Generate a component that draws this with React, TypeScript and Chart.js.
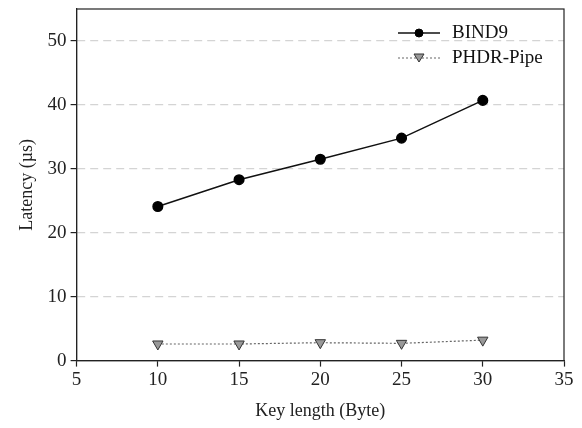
import React, { useEffect, useRef } from "react";
import { Chart, registerables } from "chart.js";

Chart.register(...registerables);

const keyLengths = [10, 15, 20, 25, 30];
const bind9 = [24.1, 28.3, 31.5, 34.8, 40.7];
const phdrPipe = [2.6, 2.6, 2.8, 2.7, 3.2];
const xTicks = [5, 10, 15, 20, 25, 30, 35];
const yTicks = [0, 10, 20, 30, 40, 50];

const FONT = "'Liberation Serif', 'Times New Roman', serif";

const framePlugin = {
  id: "frame",
  afterDraw(chart: any) {
    const { ctx, chartArea } = chart;
    ctx.save();
    ctx.strokeStyle = "#222";
    ctx.lineWidth = 1.2;
    ctx.strokeRect(chartArea.left, chartArea.top, chartArea.right - chartArea.left, chartArea.bottom - chartArea.top);
    // legend
    const items = chart.data.datasets;
    const x0 = chartArea.right - 166;
    let y = chartArea.top + 24;
    ctx.font = `19px ${FONT}`;
    ctx.textBaseline = "middle";
    items.forEach((ds: any, i: number) => {
      ctx.save();
      ctx.strokeStyle = ds.borderColor;
      ctx.lineWidth = ds.borderWidth;
      ctx.setLineDash(ds.borderDash || []);
      ctx.beginPath();
      ctx.moveTo(x0, y);
      ctx.lineTo(x0 + 42, y);
      ctx.stroke();
      ctx.setLineDash([]);
      ctx.fillStyle = ds.pointBackgroundColor;
      ctx.strokeStyle = ds.pointBorderColor;
      ctx.lineWidth = 1;
      ctx.beginPath();
      const cx = x0 + 21;
      if (i === 0) {
        ctx.arc(cx, y, 4, 0, Math.PI * 2);
      } else {
        ctx.moveTo(cx - 5, y - 4);
        ctx.lineTo(cx + 5, y - 4);
        ctx.lineTo(cx, y + 4);
        ctx.closePath();
      }
      ctx.fill();
      ctx.stroke();
      ctx.fillStyle = "#111";
      ctx.fillText(ds.label, x0 + 54, y);
      ctx.restore();
      y += 25;
    });
    ctx.restore();
  },
};

export default function App() {
  const ref = useRef<HTMLCanvasElement>(null);
  useEffect(() => {
    document.body.style.margin = "0";
    const chart = new Chart(ref.current!, {
      type: "line",
      data: {
        datasets: [
          {
            label: "BIND9",
            data: keyLengths.map((x, i) => ({ x, y: bind9[i] })),
            borderColor: "#111",
            borderWidth: 1.5,
            pointStyle: "circle",
            pointRadius: 4.8,
            pointBackgroundColor: "#000",
            pointBorderColor: "#000",
          },
          {
            label: "PHDR-Pipe",
            data: keyLengths.map((x, i) => ({ x, y: phdrPipe[i] })),
            borderColor: "#666",
            borderWidth: 1.2,
            borderDash: [2, 2],
            pointStyle: "triangle",
            rotation: 180,
            pointRadius: 6,
            pointBackgroundColor: "#999",
            pointBorderColor: "#333",
            pointBorderWidth: 1,
          },
        ],
      },
      options: {
        animation: false,
        responsive: false,
        layout: { padding: { top: 9, right: 18, left: 12, bottom: 2 } },
        plugins: { legend: { display: false }, tooltip: { enabled: false } },
        scales: {
          x: {
            type: "linear",
            min: 5,
            max: 35,
            afterBuildTicks: (s: any) => { s.ticks = xTicks.map((v) => ({ value: v })); },
            grid: { drawOnChartArea: false, tickLength: 6, tickColor: "#222", tickWidth: 1.2 },
            border: { color: "#222", width: 1.2 },
            ticks: { color: "#222", font: { family: FONT, size: 19 }, padding: 2, maxRotation: 0 },
            title: { display: true, text: "Key length (Byte)", color: "#222", font: { family: FONT, size: 18 }, padding: { top: 7 } },
          },
          y: {
            min: 0,
            max: 55,
            afterBuildTicks: (s: any) => { s.ticks = yTicks.map((v) => ({ value: v })); },
            afterFit: (s: any) => { s.paddingTop = 0; },
            grid: {
              color: (c: any) => (c.tick && c.tick.value === 0 ? "rgba(0,0,0,0)" : "#d4d4d4"),
              lineWidth: 1.2,
              tickLength: 6,
              tickColor: "#222",
              tickWidth: 1.2,
            },
            border: { color: "#222", width: 1.2, dash: [8, 5] },
            ticks: { color: "#222", font: { family: FONT, size: 19 }, padding: 4 },
            title: { display: true, text: "Latency (µs)", color: "#222", font: { family: FONT, size: 18 }, padding: { bottom: 6 } },
          },
        },
      },
      plugins: [framePlugin],
    } as any);
    return () => chart.destroy();
  }, []);
  return <canvas ref={ref} width={582} height={428} style={{ display: "block" }} />;
}
